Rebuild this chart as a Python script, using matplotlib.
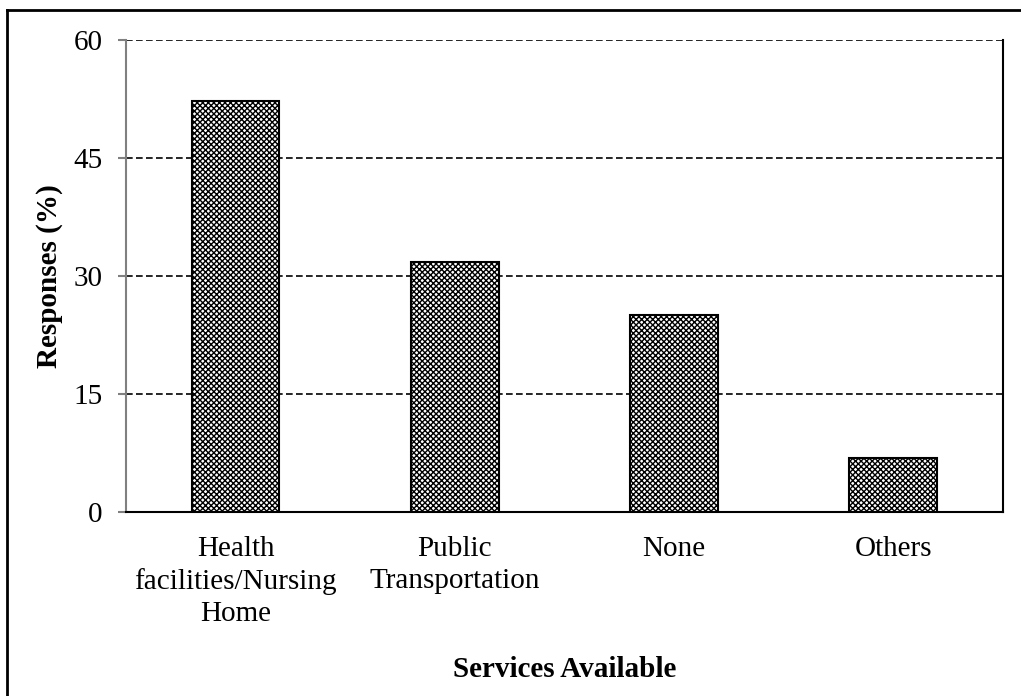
from matplotlib import pyplot as plt
from matplotlib.lines import Line2D
import numpy as np

# 数据
categories = ['Health\nfacilities/Nursing\nHome', 'Public\nTransportation', 'None', 'Others']
responses = [52.2, 31.8, 25.0, 6.8]
yticks = [0, 15, 30, 45, 60]

plt.rcParams['font.family'] = ['Liberation Serif', 'DejaVu Serif']
plt.rcParams['hatch.linewidth'] = 1.0

fig = plt.figure(figsize=(10.21, 6.96), dpi=100)
ax = fig.add_axes([0.1234, 0.2644, 0.8586, 0.6781])

x = np.arange(len(categories))
ax.bar(x, responses, width=0.4, color='white', edgecolor='black',
       hatch='xxxxxx', linewidth=1.5, zorder=3)

ax.set_xlim(-0.5, len(categories) - 0.5)
ax.set_ylim(0, 60)
ax.set_yticks(yticks)
ax.set_xticks(x)
ax.set_xticklabels(categories, fontsize=21, linespacing=1.3)
ax.tick_params(axis='x', length=0, pad=17)
ax.tick_params(axis='y', labelsize=21, direction='out', length=6,
               color='#808080', width=1.5, pad=11)

# 网格线
for v in yticks[1:]:
    ax.axhline(v, color='black', linestyle=(0, (4, 2)), linewidth=1.2, zorder=1)

ax.spines['top'].set_visible(False)
ax.spines['left'].set_color('#808080')
ax.spines['left'].set_linewidth(1.5)
ax.spines['bottom'].set_linewidth(1.5)
ax.spines['right'].set_linewidth(1.5)

ax.set_ylabel('Responses (%)', fontsize=21, fontweight='bold', labelpad=7)
ax.set_xlabel('Services Available', fontsize=21, fontweight='bold', labelpad=21)

# 外框（左、上）
fig.add_artist(Line2D([7 / 1021, 7 / 1021], [0, 1 - 10 / 696], color='black', linewidth=2,
                      transform=fig.transFigure))
fig.add_artist(Line2D([7 / 1021, 1], [1 - 10 / 696, 1 - 10 / 696], color='black', linewidth=2,
                      transform=fig.transFigure))

plt.savefig('out.png', dpi=100)
plt.close('all')
